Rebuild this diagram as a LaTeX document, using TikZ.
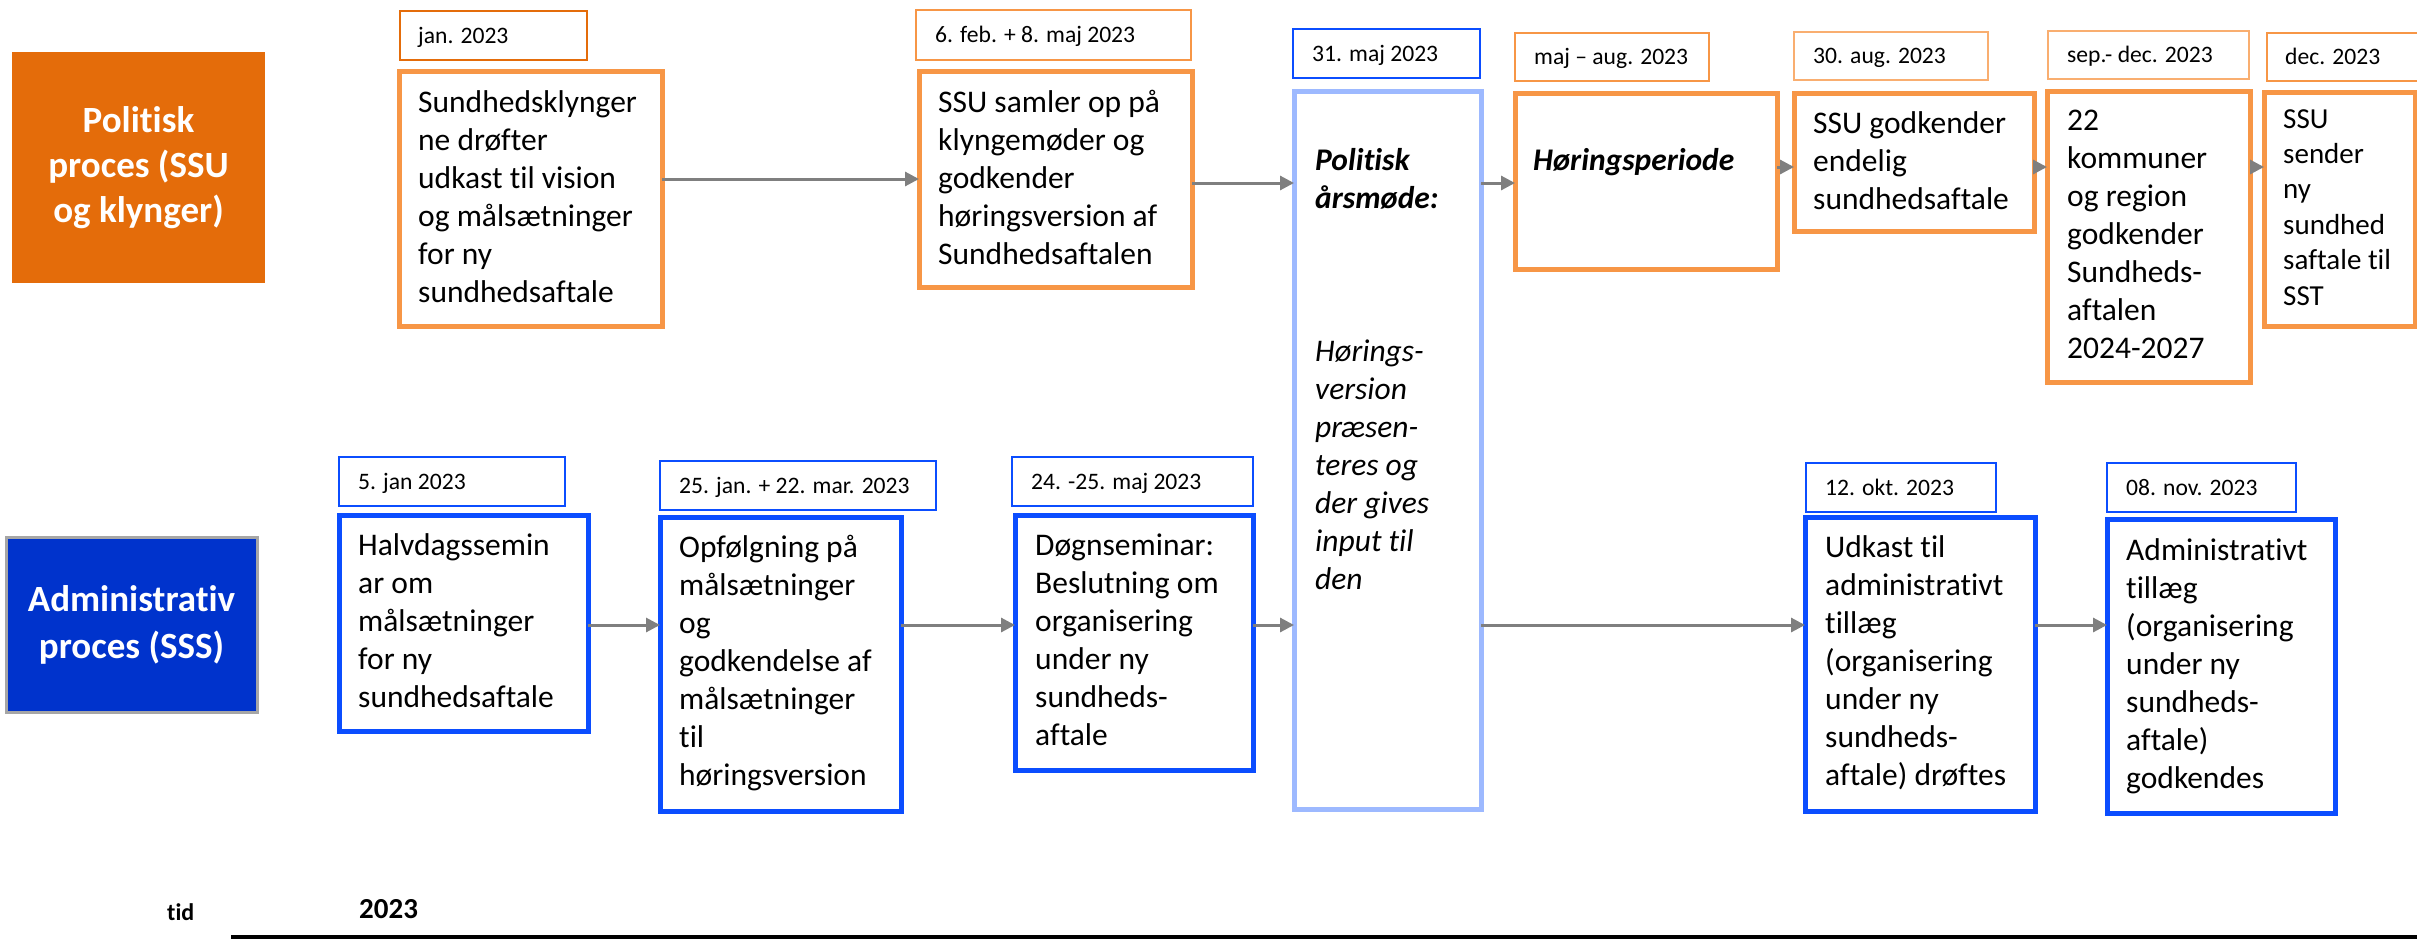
\documentclass[tikz,border=0pt]{standalone}
\usepackage{fontspec}
\setmainfont{Carlito}[Ligatures=NoCommon]
\usetikzlibrary{arrows.meta,fit}

\definecolor{ssuorange}{HTML}{E46C0A}
\definecolor{boxorange}{HTML}{F79646}
\definecolor{lightorange}{HTML}{F9AE70}
\definecolor{sssblue}{HTML}{0033CC}
\definecolor{boxblue}{HTML}{0B4DFF}
\definecolor{paleblue}{HTML}{9DB9FF}
\definecolor{arrowgray}{HTML}{7F7F7F}
\definecolor{framegray}{HTML}{A6A6A6}

\begin{document}
\begin{tikzpicture}[x=1pt,y=-1pt,
  frame/.style={rectangle, inner sep=0pt, outer sep=0pt},
  obox/.style={frame, draw=boxorange, line width=5pt},
  bbox/.style={frame, draw=boxblue, line width=5pt},
  pbox/.style={frame, draw=paleblue, line width=5pt},
  odate/.style={frame, draw=boxorange, line width=2pt},
  bdate/.style={frame, draw=boxblue, line width=2pt},
  body/.style={inner sep=0pt, anchor=north west, align=left, font=\fontsize{31.5}{38}\selectfont},
  smallbody/.style={body, font=\fontsize{29}{35.4}\selectfont},
  datetxt/.style={inner sep=0pt, anchor=base west, font=\fontsize{23.6}{28}\selectfont},
  head/.style={inner sep=0pt, align=center, text=white},
  arr/.style={draw=arrowgray, line width=3pt, -{Triangle[length=14pt,width=14pt]}}
]
\useasboundingbox (0,0) rectangle (2417,948);
\clip (0,0) rectangle (2417,948);

% ---- lane headers
\node[frame, fill=ssuorange, fit={(12,52) (265,283)}] (pol) {};
\node[head, font=\bfseries\fontsize{37}{45}\selectfont] (polt) at (pol.center) {Politisk\\proces (SSU\\og klynger)};
\node[frame, fill=sssblue, draw=framegray, line width=3pt, fit={(6,537) (257,712)}] (adm) {};
\node[head, font=\bfseries\fontsize{37}{47}\selectfont] (admt) at (adm.center) {Administrativ\\proces (SSS)};

% ---- political process (top row)
\node[odate, draw=ssuorange, fit={(400,11) (587,60)}] (d1) {};
\node[obox, fit={(399,71) (662,326)}] (b1) {};
\node[odate, fit={(916,10) (1191,60)}] (d2) {};
\node[obox, fit={(919,71) (1192,287)}] (b2) {};
\node[bdate, fit={(1293,29) (1480,78)}] (d3) {};
\node[pbox, fit={(1294,91) (1481,809)}] (mt) {};
\node[odate, fit={(1515,33) (1709,81)}] (d4) {};
\node[obox, fit={(1515,93) (1777,269)}] (b4) {};
\node[odate, draw=lightorange, fit={(1794,32) (1988,80)}] (d5) {};
\node[obox, fit={(1794,93) (2034,231)}] (b5) {};
\node[odate, draw=lightorange, fit={(2048,31) (2249,79)}] (d6) {};
\node[obox, fit={(2047,91) (2250,382)}] (b6) {};
\node[odate, fit={(2267,33) (2440,81)}] (d7) {};
\node[obox, fit={(2264,92) (2415,326)}] (b7) {};

% ---- administrative process (bottom row)
\node[bdate, fit={(339,457) (565,506)}] (e1) {};
\node[bbox, fit={(339,515) (588,731)}] (c1) {};
\node[bdate, fit={(660,461) (936,510)}] (e2) {};
\node[bbox, fit={(660,517) (901,811)}] (c2) {};
\node[bdate, fit={(1012,457) (1253,506)}] (e3) {};
\node[bbox, fit={(1015,515) (1253,770)}] (c3) {};
\node[bdate, fit={(1806,463) (1996,512)}] (e4) {};
\node[bbox, fit={(1805,517) (2035,811)}] (c4) {};
\node[bdate, fit={(2107,463) (2296,512)}] (e5) {};
\node[bbox, fit={(2107,519) (2335,813)}] (c5) {};

% ---- dates
\node[datetxt] (d1t) at ([shift={(18,7.6)}]d1.west) {jan. 2023};
\node[datetxt] (d2t) at ([shift={(19,7.6)}]d2.west) {6. feb. + 8. maj 2023};
\node[datetxt] (d3t) at ([shift={(19,7.6)}]d3.west) {31. maj 2023};
\node[datetxt] (d4t) at ([shift={(19,7.6)}]d4.west) {maj – aug. 2023};
\node[datetxt] (d5t) at ([shift={(19,7.6)}]d5.west) {30. aug. 2023};
\node[datetxt] (d6t) at ([shift={(19,7.6)}]d6.west) {sep.- dec. 2023};
\node[datetxt] (d7t) at ([shift={(18,7.6)}]d7.west) {dec. 2023};
\node[datetxt] (e1t) at ([shift={(19,7.6)}]e1.west) {5. jan 2023};
\node[datetxt] (e2t) at ([shift={(19,7.6)}]e2.west) {25. jan. + 22. mar. 2023};
\node[datetxt] (e3t) at ([shift={(19,7.6)}]e3.west) {24. -25. maj 2023};
\node[datetxt] (e4t) at ([shift={(19,7.6)}]e4.west) {12. okt. 2023};
\node[datetxt] (e5t) at ([shift={(19,7.6)}]e5.west) {08. nov. 2023};

% ---- box texts
\node[body] (b1t) at ([shift={(19,14.4)}]b1.north west)
  {\strut Sundhedsklynger\\ne drøfter\\udkast til vision\\og målsætninger\\for ny\\sundhedsaftale};
\node[body] (b2t) at ([shift={(19,14.4)}]b2.north west)
  {\strut SSU samler op på\\klyngemøder og\\godkender\\høringsversion af\\Sundhedsaftalen};
\node[body, font=\bfseries\itshape\fontsize{31.5}{38}\selectfont] (mth) at ([shift={(21,52.4)}]mt.north west)
  {\strut Politisk\\årsmøde:};
\node[body, font=\itshape\fontsize{31.5}{38}\selectfont] (mtt) at ([shift={(21,243.4)}]mt.north west)
  {\strut Hørings-\\version\\præsen-\\teres og\\der gives\\input til\\den};
\node[body, font=\bfseries\itshape\fontsize{31.5}{38}\selectfont] (b4t) at ([shift={(18,50.4)}]b4.north west)
  {\strut Høringsperiode};
\node[body] (b5t) at ([shift={(19,13.4)}]b5.north west)
  {\strut SSU godkender\\endelig\\sundhedsaftale};
\node[body] (b6t) at ([shift={(20,12.4)}]b6.north west)
  {\strut 22\\kommuner\\og region\\godkender\\Sundheds-\\aftalen\\2024-2027};
\node[smallbody] (b7t) at ([shift={(19,11.2)}]b7.north west)
  {\strut SSU\\sender\\ny\\sundhed\\saftale til\\SST};
\node[body] (c1t) at ([shift={(19,13.4)}]c1.north west)
  {\strut Halvdagssemin\\ar om\\målsætninger\\for ny\\sundhedsaftale};
\node[body] (c2t) at ([shift={(19,13.4)}]c2.north west)
  {\strut Opfølgning på\\målsætninger\\og\\godkendelse af\\målsætninger\\til\\høringsversion};
\node[body] (c3t) at ([shift={(20,13.4)}]c3.north west)
  {\strut Døgnseminar:\\Beslutning om\\organisering\\under ny\\sundheds-\\aftale};
\node[body] (c4t) at ([shift={(20,13.4)}]c4.north west)
  {\strut Udkast til\\administrativt\\tillæg\\(organisering\\under ny\\sundheds-\\aftale) drøftes};
\node[body] (c5t) at ([shift={(19,14.4)}]c5.north west)
  {\strut Administrativt\\tillæg\\(organisering\\under ny\\sundheds-\\aftale)\\godkendes};

% ---- connectors
\coordinate (r1) at (0,179);
\coordinate (r2) at (0,183);
\coordinate (r3) at (0,167);
\coordinate (r4) at (0,625);
\draw[arr] (b1.east |- r1) -- (b2.west |- r1);
\draw[arr] (b2.east |- r2) -- (mt.west |- r2);
\draw[arr] (mt.east |- r2) -- (b4.west |- r2);
\draw[arr] (b4.east |- r3) -- (b5.west |- r3);
\draw[arr] (b5.east |- r3) -- (b6.west |- r3);
\draw[arr] (b6.east |- r3) -- (b7.west |- r3);
\draw[arr] (c1.east |- r4) -- (c2.west |- r4);
\draw[arr] (c2.east |- r4) -- (c3.west |- r4);
\draw[arr] (c3.east |- r4) -- (mt.west |- r4);
\draw[arr] (mt.east |- r4) -- (c4.west |- r4);
\draw[arr] (c4.east |- r4) -- (c5.west |- r4);

% ---- time axis
\node[inner sep=0pt, anchor=base west, font=\bfseries\fontsize{24}{28}\selectfont] (tid) at (167,920) {tid};
\node[inner sep=0pt, anchor=base west, font=\bfseries\fontsize{29}{34}\selectfont] (yr) at (359,918) {2023};
\coordinate (t0) at (231,937);
\coordinate (t1) at (2417,937);
\draw[line width=4pt] (t0) -- (t1);
\end{tikzpicture}
\end{document}
